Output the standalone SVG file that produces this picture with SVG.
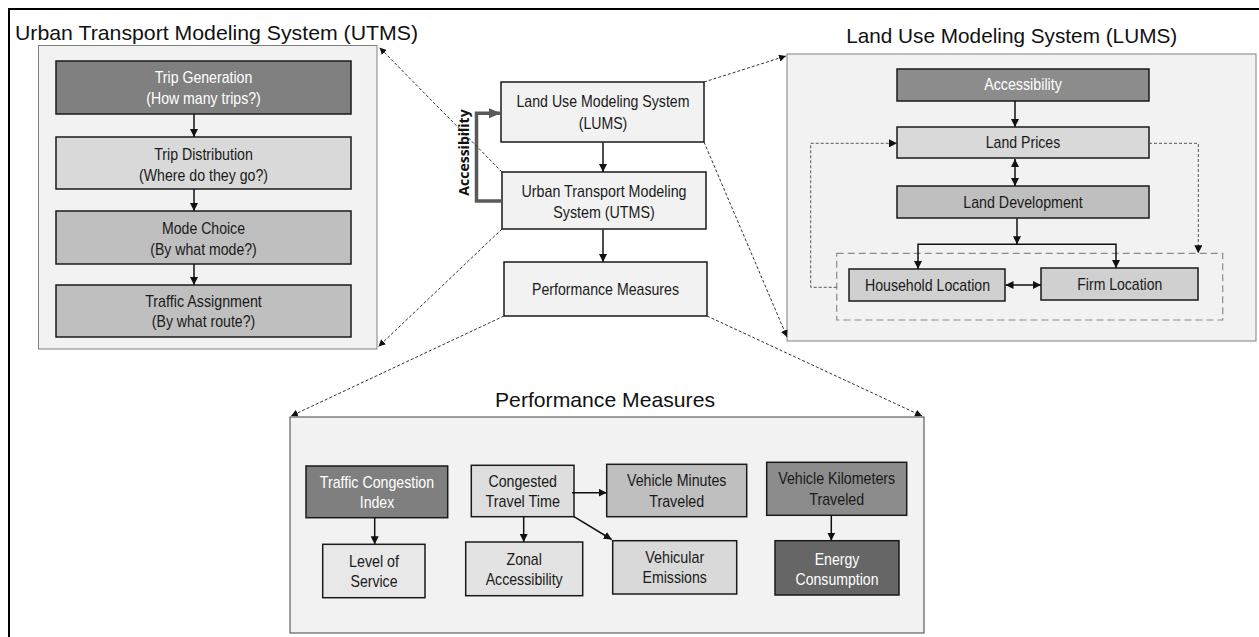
<svg xmlns="http://www.w3.org/2000/svg" width="1259" height="637" viewBox="0 0 1259 637">
<style>
.bg{fill:#ffffff}
.frame{fill:none;stroke:#000;stroke-width:2}
.panel{fill:#f2f2f2;stroke:#808080;stroke-width:1}
.panel2{fill:#f2f2f2;stroke:#404040;stroke-width:1}
.box{stroke:#1a1a1a;stroke-width:1.5}
.t{font-family:"Liberation Sans Narrow","Liberation Sans",Arial,sans-serif;font-size:17px;text-anchor:middle;fill:#1a1a1a}
.w{fill:#ffffff}
.title{font-family:"Liberation Sans",Arial,sans-serif;font-size:21px;fill:#111}
.conn{fill:none;stroke:#111;stroke-width:1.5;marker-end:url(#ah)}
.dbl{marker-start:url(#ah)}
.dash{fill:none;stroke:#333;stroke-width:1;stroke-dasharray:3 2;marker-end:url(#dh)}
.dot{fill:none;stroke:#555;stroke-width:1;stroke-dasharray:3 2;marker-end:url(#ah)}
.grp{fill:none;stroke:#8a8a8a;stroke-width:1.2;stroke-dasharray:7 4}
.acc{fill:none;stroke:#595959;stroke-width:3.5;marker-end:url(#gh)}
.acct{font-family:"Open Sans","Liberation Sans",sans-serif;font-weight:bold;font-size:14px;fill:#111;text-anchor:middle}
</style>
<defs>
<marker id="ah" viewBox="0 0 10 10" refX="10" refY="5" markerWidth="8" markerHeight="8" markerUnits="userSpaceOnUse" orient="auto-start-reverse"><path d="M0,0 L10,5 L0,10 z" fill="#111"/></marker>
<marker id="dh" viewBox="0 0 10 10" refX="10" refY="5" markerWidth="7" markerHeight="7" markerUnits="userSpaceOnUse" orient="auto"><path d="M0,0 L10,5 L0,10 z" fill="#111"/></marker>
<marker id="gh" viewBox="0 0 12 10" refX="12" refY="5" markerWidth="12" markerHeight="10" markerUnits="userSpaceOnUse" orient="auto"><path d="M0,0 L12,5 L0,10 z" fill="#595959"/></marker>
</defs>
<rect class="bg" x="0" y="0" width="1259" height="637"/>
<path class="frame" d="M9,637 V9 H1259"/>

<g id="utms-panel">
<rect class="panel" x="38.5" y="45.5" width="338.5" height="303.5"/>
<text class="title" x="15" y="40" textLength="403" lengthAdjust="spacingAndGlyphs">Urban Transport Modeling System (UTMS)</text>
</g>
<g id="trip-generation">
<rect class="box" x="56" y="61" width="295" height="53" fill="#808080"/>
<text class="t w" x="203.5" y="82.7" textLength="97.5" lengthAdjust="spacingAndGlyphs">Trip Generation</text>
<text class="t w" x="203.5" y="104" textLength="114.5" lengthAdjust="spacingAndGlyphs">(How many trips?)</text>
</g>
<g id="trip-distribution">
<rect class="box" x="56" y="137" width="295" height="52" fill="#d9d9d9"/>
<text class="t" x="203.5" y="159.5" textLength="98.7" lengthAdjust="spacingAndGlyphs">Trip Distribution</text>
<text class="t" x="203.5" y="180.5" textLength="129" lengthAdjust="spacingAndGlyphs">(Where do they go?)</text>
</g>
<g id="mode-choice">
<rect class="box" x="56" y="211" width="295" height="53" fill="#bfbfbf"/>
<text class="t" x="203.5" y="234.3" textLength="83" lengthAdjust="spacingAndGlyphs">Mode Choice</text>
<text class="t" x="203.5" y="255" textLength="106.6" lengthAdjust="spacingAndGlyphs">(By what mode?)</text>
</g>
<g id="traffic-assignment">
<rect class="box" x="56" y="285" width="295" height="52" fill="#bfbfbf"/>
<text class="t" x="203.5" y="306.7" textLength="116.7" lengthAdjust="spacingAndGlyphs">Traffic Assignment</text>
<text class="t" x="203.5" y="327.3" textLength="103.4" lengthAdjust="spacingAndGlyphs">(By what route?)</text>
</g>

<g id="lums-center">
<rect class="box" x="501" y="82" width="203" height="60" fill="#f2f2f2"/>
<text class="t" x="603" y="107.3" textLength="173" lengthAdjust="spacingAndGlyphs">Land Use Modeling System</text>
<text class="t" x="603" y="129" textLength="48.6" lengthAdjust="spacingAndGlyphs">(LUMS)</text>
</g>
<g id="utms-center">
<rect class="box" x="502" y="172" width="204" height="57" fill="#f2f2f2"/>
<text class="t" x="604" y="196.7" textLength="165" lengthAdjust="spacingAndGlyphs">Urban Transport Modeling</text>
<text class="t" x="604" y="218" textLength="101.5" lengthAdjust="spacingAndGlyphs">System (UTMS)</text>
</g>
<g id="pm-center">
<rect class="box" x="504" y="262" width="203" height="54" fill="#f2f2f2"/>
<text class="t" x="605.5" y="295" textLength="147" lengthAdjust="spacingAndGlyphs">Performance Measures</text>
</g>
<g id="accessibility-label">
<text class="acct" transform="translate(468.5,152.5) rotate(-90)">Accessibility</text>
</g>

<g id="lums-panel">
<rect class="panel" x="787" y="54" width="469" height="287"/>
<text class="title" x="1011.7" y="43.3" text-anchor="middle" textLength="331" lengthAdjust="spacingAndGlyphs">Land Use Modeling System (LUMS)</text>
<rect class="grp" x="836.7" y="253.3" width="386" height="66.7"/>
</g>
<g id="accessibility">
<rect class="box" x="897" y="69" width="252" height="32" fill="#8c8c8c"/>
<text class="t w" x="1023" y="90" textLength="77.7" lengthAdjust="spacingAndGlyphs">Accessibility</text>
</g>
<g id="land-prices">
<rect class="box" x="897" y="127" width="252" height="31" fill="#d9d9d9"/>
<text class="t" x="1023" y="148.3" textLength="74.5" lengthAdjust="spacingAndGlyphs">Land Prices</text>
</g>
<g id="land-development">
<rect class="box" x="897" y="186" width="252" height="32" fill="#bfbfbf"/>
<text class="t" x="1023" y="208.3" textLength="119.5" lengthAdjust="spacingAndGlyphs">Land Development</text>
</g>
<g id="household-location">
<rect class="box" x="849" y="269" width="156" height="32" fill="#d0d0d0"/>
<text class="t" x="927.5" y="290.7" textLength="125" lengthAdjust="spacingAndGlyphs">Household Location</text>
</g>
<g id="firm-location">
<rect class="box" x="1041" y="268" width="157" height="32" fill="#d0d0d0"/>
<text class="t" x="1119.8" y="290" textLength="85" lengthAdjust="spacingAndGlyphs">Firm Location</text>
</g>

<g id="pm-panel">
<rect class="panel2" x="290" y="417" width="634" height="216"/>
<text class="title" x="605" y="407.3" text-anchor="middle" textLength="220" lengthAdjust="spacingAndGlyphs">Performance Measures</text>
</g>
<g id="traffic-congestion-index">
<rect class="box" x="306" y="466" width="141.7" height="51.7" fill="#7f7f7f"/>
<text class="t w" x="377" y="488.3" textLength="114.3" lengthAdjust="spacingAndGlyphs">Traffic Congestion</text>
<text class="t w" x="377" y="508.3" textLength="34.5" lengthAdjust="spacingAndGlyphs">Index</text>
</g>
<g id="level-of-service">
<rect class="box" x="322.7" y="544.3" width="102.3" height="53.4" fill="#e8e8e8"/>
<text class="t" x="374" y="566.7" textLength="50" lengthAdjust="spacingAndGlyphs">Level of</text>
<text class="t" x="374" y="587.3" textLength="47" lengthAdjust="spacingAndGlyphs">Service</text>
</g>
<g id="congested-travel-time">
<rect class="box" x="471.3" y="465.3" width="102.7" height="51.4" fill="#dedede"/>
<text class="t" x="522.7" y="487.3" textLength="68.5" lengthAdjust="spacingAndGlyphs">Congested</text>
<text class="t" x="522.7" y="507.3" textLength="74.5" lengthAdjust="spacingAndGlyphs">Travel Time</text>
</g>
<g id="zonal-accessibility">
<rect class="box" x="465.7" y="542" width="117" height="53.7" fill="#e3e3e3"/>
<text class="t" x="524.2" y="565" textLength="35.3" lengthAdjust="spacingAndGlyphs">Zonal</text>
<text class="t" x="524.2" y="585" textLength="77" lengthAdjust="spacingAndGlyphs">Accessibility</text>
</g>
<g id="vehicle-minutes-traveled">
<rect class="box" x="606.7" y="464.3" width="140" height="52.4" fill="#bfbfbf"/>
<text class="t" x="676.7" y="485.7" textLength="99.5" lengthAdjust="spacingAndGlyphs">Vehicle Minutes</text>
<text class="t" x="676.7" y="506.7" textLength="55" lengthAdjust="spacingAndGlyphs">Traveled</text>
</g>
<g id="vehicular-emissions">
<rect class="box" x="612.7" y="540.7" width="124" height="53.3" fill="#d9d9d9"/>
<text class="t" x="674.7" y="563.3" textLength="59" lengthAdjust="spacingAndGlyphs">Vehicular</text>
<text class="t" x="674.7" y="583.3" textLength="64.5" lengthAdjust="spacingAndGlyphs">Emissions</text>
</g>
<g id="vehicle-kilometers-traveled">
<rect class="box" x="766.7" y="462.3" width="140" height="53" fill="#8c8c8c"/>
<text class="t" x="836.7" y="484.3" textLength="117" lengthAdjust="spacingAndGlyphs">Vehicle Kilometers</text>
<text class="t" x="836.7" y="505" textLength="55" lengthAdjust="spacingAndGlyphs">Traveled</text>
</g>
<g id="energy-consumption">
<rect class="box" x="775" y="540.7" width="124" height="54.3" fill="#666666"/>
<text class="t w" x="837" y="565" textLength="44.7" lengthAdjust="spacingAndGlyphs">Energy</text>
<text class="t w" x="837" y="585" textLength="83" lengthAdjust="spacingAndGlyphs">Consumption</text>
</g>

<g id="connectors">
<path class="conn" d="M194,114 V137"/>
<path class="conn" d="M194,189 V211"/>
<path class="conn" d="M194,264 V285"/>
<path class="conn" d="M603,142.5 V172"/>
<path class="conn" d="M603,229.5 V262"/>
<path class="acc" d="M502,201 H476.5 V113.3 H501"/>
<path class="conn" d="M1015,101 V127"/>
<path class="conn dbl" d="M1015,159 V186"/>
<path class="conn" d="M1017,218.5 V244.3"/>
<path class="conn dbl" d="M918,269 V244.3 H1116 V268"/>
<path class="conn dbl" d="M1005.5,285 H1041"/>
<path class="dot" d="M836.7,287.3 H810.7 V143.3 H897"/>
<path class="dot" d="M1149,143.3 H1198.3 V253.3"/>
<path class="conn" d="M374.7,517.7 V544.3"/>
<path class="conn" d="M523.7,516.7 V542"/>
<path class="conn" d="M572,492.7 H606.7"/>
<path class="conn" d="M574,516.7 L611.7,539.5"/>
<path class="conn" d="M831.3,515.3 V540.7"/>
<path class="dash" d="M704,82 L786,56"/>
<path class="dash" d="M704,142 L787,337"/>
<path class="dash" d="M502,172 L379.5,47.5"/>
<path class="dash" d="M502,229 L378.5,346.5"/>
<path class="dash" d="M504,316 L291,416"/>
<path class="dash" d="M707,316 L922,416"/>
</g>
</svg>
